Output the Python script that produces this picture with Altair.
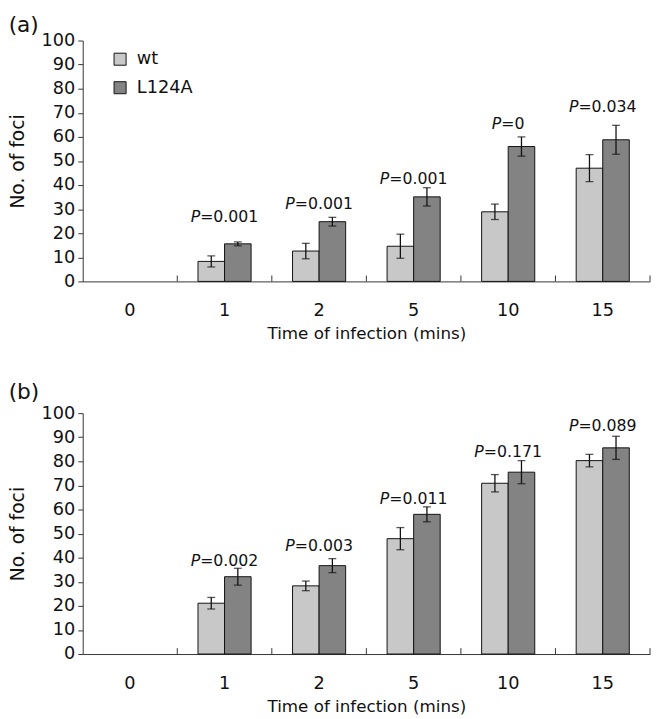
import altair as alt
import pandas as pd

cats = ["0", "1", "2", "5", "10", "15"]
series = ["wt", "L124A"]

a_wt = [0, 8.3, 12.6, 14.6, 28.9, 47.0]
a_wt_err = [0, 2.3, 3.2, 5.0, 3.2, 5.6]
a_mut = [0, 15.6, 24.8, 35.1, 56.0, 58.8]
a_mut_err = [0, 0.8, 1.8, 3.8, 4.0, 6.0]
a_p = ["", "0.001", "0.001", "0.001", "0", "0.034"]
a_label_y = [0, 26.5, 32.0, 42.4, 65.3, 72.5]

b_wt = [0, 21.1, 28.3, 47.9, 70.9, 80.3]
b_wt_err = [0, 2.4, 2.0, 4.6, 3.6, 2.6]
b_mut = [0, 32.1, 36.7, 58.0, 75.5, 85.6]
b_mut_err = [0, 3.5, 2.9, 3.1, 4.8, 4.8]
b_p = ["", "0.002", "0.003", "0.011", "0.171", "0.089"]
b_label_y = [0, 38.5, 44.7, 64.5, 83.9, 94.5]

FONT = "DejaVu Sans"
INK = "#111111"
COLORS = ["#c8c8c8", "#838383"]
W, H = 577, 245

# approximate DejaVu Sans advance widths (em) for centring split labels
CW = {"P": 0.603, "=": 0.838, ".": 0.318}
for d in "0123456789":
    CW[d] = 0.636

XSCALE = alt.Scale(paddingInner=0, paddingOuter=0)
XAXIS = alt.Axis(title="Time of infection (mins)", labelAngle=0, ticks=False,
                 labelPadding=21, titlePadding=6, domainColor="#333333",
                 labelFont=FONT, titleFont=FONT, labelFontSize=18,
                 titleFontSize=17, titleFontWeight="normal",
                 labelColor=INK, titleColor=INK)
YSCALE = alt.Scale(domain=[0, 100], nice=False)
YAXIS = alt.Axis(title="No. of foci", values=list(range(0, 101, 10)), grid=False,
                 labelOverlap=False, tickSize=5, labelPadding=3, titlePadding=14,
                 domainColor="#333333", tickColor="#333333",
                 labelFont=FONT, titleFont=FONT, labelFontSize=18, titleFontSize=19,
                 titleFontWeight="normal", labelColor=INK, titleColor=INK)


def X(**kw):
    return alt.X("t:N", sort=cats, scale=XSCALE, axis=XAXIS, **kw)


def Y(field):
    return alt.Y(field, scale=YSCALE, axis=YAXIS)


def panel(wt, wt_err, mut, mut_err, pvals, label_y, tag, toff):
    rows = []
    for i, c in enumerate(cats):
        for s, v, e in ((series[0], wt[i], wt_err[i]), (series[1], mut[i], mut_err[i])):
            rows.append({"t": c, "s": s, "v": v, "lo": v - e, "hi": v + e})
    df = pd.DataFrame(rows)
    lab = pd.DataFrame({"t": cats, "p": pvals, "ly": label_y})
    lab = lab[lab["p"] != ""]

    xoff = alt.XOffset("s:N", sort=series, scale=alt.Scale(paddingOuter=0.78, paddingInner=0))

    base = alt.Chart(df).transform_filter("datum.v > 0")
    bars = base.mark_bar(stroke=INK, strokeWidth=1).encode(
        x=X(),
        xOffset=xoff,
        y=Y("v:Q"),
        fill=alt.Fill("s:N", sort=series, scale=alt.Scale(domain=series, range=COLORS),
                      legend=alt.Legend(title=None, orient="none", legendX=29, legendY=10,
                                        symbolType="square", symbolSize=150,
                                        symbolStrokeColor=INK, symbolStrokeWidth=1,
                                        labelFont=FONT, labelFontSize=18, labelColor=INK,
                                        rowPadding=11, labelOffset=8)),
    )
    err = base.mark_rule(color=INK, strokeWidth=1.3).encode(
        x=X(), xOffset=xoff, y=Y("lo:Q"), y2="hi:Q")
    cap_lo = base.mark_tick(color=INK, size=8, thickness=1.3).encode(
        x=X(), xOffset=xoff, y=Y("lo:Q"))
    cap_hi = base.mark_tick(color=INK, size=8, thickness=1.3).encode(
        x=X(), xOffset=xoff, y=Y("hi:Q"))
    ticks = alt.Chart(pd.DataFrame({"t": cats})).mark_rule(color="#333333").encode(
        x=X(bandPosition=1), y=alt.value(H), y2=alt.value(H - 6))

    layers = [bars, err, cap_lo, cap_hi, ticks]
    fs = 16
    for _, r in lab.iterrows():
        tail = "=" + r["p"]
        wP = CW["P"] * fs
        wT = sum(CW[ch] for ch in tail) * fs
        dx = -(wP + wT) / 2 + wP
        src = alt.Chart(pd.DataFrame([r])).encode(x=X(), y=Y("ly:Q"))
        layers.append(src.mark_text(text="P", font=FONT, fontSize=fs, fontStyle="italic",
                                    align="right", baseline="middle", dx=dx, color=INK))
        layers.append(src.mark_text(font=FONT, fontSize=fs, align="left", baseline="middle",
                                    dx=dx, color=INK).encode(text=alt.value(tail)))

    return alt.layer(*layers).properties(
        width=W, height=H,
        title=alt.TitleParams(tag, anchor="start", frame="bounds", fontSize=22,
                              font=FONT, fontWeight="normal", offset=toff, color=INK),
    )


pa = panel(a_wt, a_wt_err, a_mut, a_mut_err, a_p, a_label_y, "(a)", -5)
pb = panel(b_wt, b_wt_err, b_mut, b_mut_err, b_p, b_label_y, "(b)", 0)

chart = alt.vconcat(pa, pb, spacing=41).resolve_scale(fill="shared").configure(
    padding=0).configure_view(stroke=None)

chart.save("out.html", embed_options={"renderer": "svg", "actions": False})
